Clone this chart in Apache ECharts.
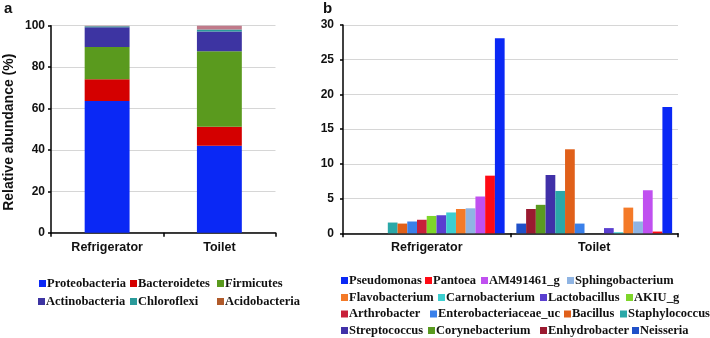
<!DOCTYPE html>
<html><head><meta charset="utf-8">
<script src="https://cdn.jsdelivr.net/npm/echarts@6/dist/echarts.min.js"></script>
<style>html,body{margin:0;padding:0;background:#fff}#c{width:710px;height:338px}</style>
</head><body><div id="c"></div>
<script>
// ---- data ----
const sites = ['Refrigerator', 'Toilet'];
const phylumNames = ['Proteobacteria', 'Bacteroidetes', 'Firmicutes', 'Actinobacteria', 'Chloroflexi', 'Acidobacteria'];
const proteobacteria = [63.6, 42.0];
const bacteroidetes = [10.5, 9.2];
const firmicutes = [15.6, 36.4];
const actinobacteria = [9.5, 9.6];
const chloroflexi = [0.5, 1.0];
const acidobacteria = [0.3, 1.8];
const phylumValues = [proteobacteria, bacteroidetes, firmicutes, actinobacteria, chloroflexi, acidobacteria];

const genusNames = ['Pseudomonas', 'Pantoea', 'AM491461_g', 'Sphingobacterium', 'Flavobacterium', 'Carnobacterium',
  'Lactobacillus', 'AKIU_g', 'Arthrobacter', 'Enterobacteriaceae_uc', 'Bacillus', 'Staphylococcus',
  'Streptococcus', 'Corynebacterium', 'Enhydrobacter', 'Neisseria'];
const refrigeratorGenus = [28.1, 8.3, 5.3, 3.6, 3.5, 3.0, 2.6, 2.5, 1.95, 1.7, 1.4, 1.55, 0, 0, 0, 0];
const toiletGenus = [18.2, 0.25, 6.2, 1.7, 3.7, 0.15, 0.75, 0, 0, 1.4, 12.1, 6.1, 8.4, 4.1, 3.5, 1.4];
const leftTicks = [0, 20, 40, 60, 80, 100];
const rightTicks = [0, 5, 10, 15, 20, 25, 30];

// ---- styles ----
const phylumColors = ['#0a28f5', '#d40000', '#5a9a1e', '#3d34a2', '#2a9a9a', '#c07a8a'];
const phylumLegendColors = ['#0a28f5', '#d40000', '#5a9a1e', '#3d34a2', '#2a9a9a', '#b05a2a'];
const genusColors = ['#0a28f5', '#ff0a14', '#c050f0', '#8fb4e3', '#f47a28', '#3ccfd0',
  '#5a3fd0', '#7ed62a', '#c8203a', '#3a80ea', '#e0601a', '#2aa8a8',
  '#4030a8', '#5a9a20', '#9a1a30', '#2050c8'];
// legend layout (square x, row center y)
const leftLegendPos = [[39, 284], [130, 284], [217, 284], [38, 302], [130, 302], [217, 302]];
const rightLegendPos = [[341, 281], [425, 281], [481, 281], [567, 281],
  [341, 298], [438, 298], [540, 298], [626, 298],
  [341, 314.5], [430, 314.5], [564, 314.5], [620, 314.5],
  [341, 331], [428, 331], [540, 331], [632, 331]];

const axisFont = {fontFamily: 'Liberation Sans', fontWeight: 'bold', fontSize: 12, color: '#111'};
const legendFont = {fontFamily: 'Liberation Serif', fontWeight: 'bold', fontSize: 12.5, color: '#111'};

const legends = [];
const mkLegend = (n, color, pos) => ({
  data: [{name: n, itemStyle: {color: color}}],
  left: pos[0], top: pos[1] - 7, padding: 0,
  itemWidth: 7, itemHeight: 7, itemGap: 2, icon: 'rect', selectedMode: false,
  textStyle: Object.assign({padding: [0, 0, 0, -4]}, legendFont)
});
phylumNames.forEach((n, i) => legends.push(mkLegend(n, phylumLegendColors[i], leftLegendPos[i])));
genusNames.forEach((n, i) => legends.push(mkLegend(n, genusColors[i], rightLegendPos[i])));

const series = [];
phylumNames.forEach((n, i) => {
  series.push({
    name: n, type: 'bar', stack: 'phylum', xAxisIndex: 0, yAxisIndex: 0,
    data: phylumValues[i], barWidth: '40%',
    itemStyle: {color: phylumColors[i]}
  });
});
// bars drawn in reverse legend order (Neisseria ... Pseudomonas)
for (let i = genusNames.length - 1; i >= 0; i--) {
  series.push({
    name: genusNames[i], type: 'bar', xAxisIndex: 1, yAxisIndex: 1,
    data: [refrigeratorGenus[i], toiletGenus[i]],
    barGap: '0%', barCategoryGap: '7%',
    itemStyle: {color: genusColors[i]}
  });
}

const catAxis = (gi) => ({
  type: 'category', gridIndex: gi, data: sites,
  axisLine: {lineStyle: {color: '#000', width: 1.5}},
  axisTick: {show: true, length: 4, lineStyle: {color: '#000', width: 1.5}},
  axisLabel: Object.assign({margin: 8}, axisFont, {fontSize: 12.5})
});
const valAxis = (gi, max, interval, margin) => ({
  type: 'value', gridIndex: gi, min: 0, max: max, interval: interval,
  axisLine: {show: true, lineStyle: {color: '#000', width: 1.5}},
  axisTick: {show: true, length: 3, lineStyle: {color: '#000', width: 1.5}},
  splitLine: {lineStyle: {color: '#d6d6d6', width: 1}},
  axisLabel: Object.assign({margin: margin}, axisFont)
});

const chart = echarts.init(document.getElementById('c'), null, {renderer: 'canvas'});
const yLeft = valAxis(0, leftTicks[leftTicks.length - 1], leftTicks[1] - leftTicks[0], 6);
yLeft.name = 'Relative abundance (%)';
yLeft.nameLocation = 'middle';
yLeft.nameGap = 35;
yLeft.nameTextStyle = {fontFamily: 'Liberation Sans', fontWeight: 'bold', fontSize: 14, color: '#111', padding: [0, 0, 0, -6]};
chart.setOption({
  animation: false,
  backgroundColor: '#fff',
  title: [
    {text: 'a', left: 4, top: 1, padding: 0, textStyle: {fontFamily: 'Liberation Sans', fontWeight: 'bold', fontSize: 15, color: '#111'}},
    {text: 'b', left: 323, top: 1, padding: 0, textStyle: {fontFamily: 'Liberation Sans', fontWeight: 'bold', fontSize: 15, color: '#111'}}
  ],
  grid: [
    {left: 51, top: 25.7, width: 224.5, height: 207, containLabel: false},
    {left: 343, top: 25, width: 335, height: 208.3, containLabel: false}
  ],
  legend: legends,
  xAxis: [catAxis(0), catAxis(1)],
  yAxis: [yLeft, valAxis(1, rightTicks[rightTicks.length - 1], rightTicks[1] - rightTicks[0], 9)],
  series: series
});
</script></body></html>
